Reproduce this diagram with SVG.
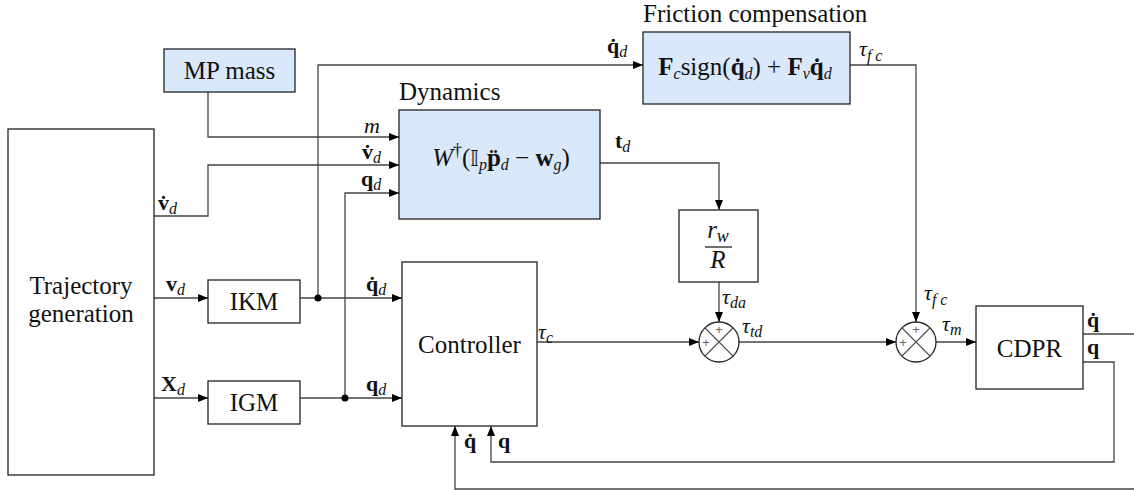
<svg xmlns="http://www.w3.org/2000/svg" width="1134" height="490" viewBox="0 0 1134 490" font-family="'Liberation Serif', serif">
<defs>
<marker id="ah" markerUnits="userSpaceOnUse" markerWidth="11" markerHeight="9" refX="10" refY="4" orient="auto">
<path d="M0,0 L10,4 L0,8 z" fill="#000"/>
</marker>
<style>
.box{fill:#fff;stroke:#222;stroke-width:1.3}
.blue{fill:#dae8fc;stroke:#222;stroke-width:1.3}
.ln{fill:none;stroke:#444;stroke-width:1.3}
.arr{fill:none;stroke:#444;stroke-width:1.3;marker-end:url(#ah)}
text{font-family:"Liberation Serif",serif;fill:#111}
.nm{font-size:25px}
.m{font-size:22px}
.fm{font-size:25px}
.fr{font-size:25px;font-style:italic}
.b{font-weight:bold}
.i{font-style:italic}
.sb{font-style:italic;font-size:16px}
.sp{font-size:18px}
.pl{font-family:"Liberation Sans",sans-serif;font-size:13px;fill:#666}
</style>
</defs>

<g id="connectors">
<path class="arr" d="M208,92 V137 H399"/>
<path class="arr" d="M154,216 H208 V165 H399"/>
<path class="arr" d="M318,298 V65 H643"/>
<path class="arr" d="M345,398 V193 H399"/>
<path class="arr" d="M154,298 H208"/>
<path class="arr" d="M300,298 H402"/>
<path class="arr" d="M154,398 H208"/>
<path class="arr" d="M300,398 H402"/>
<path class="arr" d="M600,163 H719 V210"/>
<path class="arr" d="M719,282 V322"/>
<path class="arr" d="M537,342 H699"/>
<path class="arr" d="M739,342 H896"/>
<path class="arr" d="M850,65 H916 V322"/>
<path class="arr" d="M936,342 H976"/>
<path class="ln" d="M1083,334 H1134"/>
<path class="arr" d="M1083,362 H1114 V462 H491 V426"/>
<path class="arr" d="M1134,489 H455 V426"/>
<circle cx="318" cy="298" r="3.5" fill="#000"/>
<circle cx="345" cy="398" r="3.5" fill="#000"/>
</g>

<g id="mp-mass">
<rect class="blue" x="164" y="49" width="131" height="43"/>
<text class="nm" x="229.5" y="79" text-anchor="middle" style="font-family:'Liberation Serif',serif">MP mass</text>
</g>

<g id="trajectory">
<rect class="box" x="8" y="129" width="146" height="346"/>
<text class="nm" x="81" y="294" text-anchor="middle" style="font-family:'Liberation Serif',serif">Trajectory</text>
<text class="nm" x="81" y="322" text-anchor="middle" style="font-family:'Liberation Serif',serif">generation</text>
</g>

<g id="ikm">
<rect class="box" x="208" y="280" width="92" height="43"/>
<text class="nm" x="254" y="310" text-anchor="middle" style="font-family:'Liberation Serif',serif">IKM</text>
</g>

<g id="igm">
<rect class="box" x="208" y="381" width="92" height="43"/>
<text class="nm" x="254" y="411" text-anchor="middle" style="font-family:'Liberation Serif',serif">IGM</text>
</g>

<g id="dynamics">
<text class="nm" x="399" y="100">Dynamics</text>
<rect class="blue" x="399" y="110" width="201" height="109"/>
<text class="fm" x="501" y="166" text-anchor="middle"><tspan class="i">W</tspan><tspan class="sp" dy="-10">†</tspan><tspan dy="10">(</tspan><tspan style="font-family:'DejaVu Sans',sans-serif;font-size:22px">𝕀</tspan><tspan class="sb" dy="4">p</tspan><tspan class="b" dy="-4">p̈</tspan><tspan class="sb" dy="4">d</tspan><tspan dy="-4"> − </tspan><tspan class="b">w</tspan><tspan class="sb" dy="4">g</tspan><tspan dy="-4">)</tspan></text>
</g>

<g id="friction">
<text class="nm" x="643" y="22">Friction compensation</text>
<rect class="blue" x="643" y="32" width="207" height="72"/>
<text class="fm" x="745" y="75" text-anchor="middle"><tspan class="b">F</tspan><tspan class="sb" dy="4">c</tspan><tspan dy="-4">sign(</tspan><tspan class="b">q̇</tspan><tspan class="sb" dy="4">d</tspan><tspan dy="-4">) + </tspan><tspan class="b">F</tspan><tspan class="sb" dy="4">v</tspan><tspan class="b" dy="-4">q̇</tspan><tspan class="sb" dy="4">d</tspan></text>
</g>

<g id="gain">
<rect class="box" x="679" y="210" width="79" height="72"/>
<text class="fr" x="718" y="238" text-anchor="middle">r<tspan class="sp" dy="4">w</tspan></text>
<line x1="705" y1="247" x2="732" y2="247" stroke="#111" stroke-width="1.2"/>
<text class="fr" x="718" y="268" text-anchor="middle">R</text>
</g>

<g id="controller">
<rect class="box" x="402" y="262" width="135" height="164"/>
<text class="nm" x="469.5" y="353" text-anchor="middle" style="font-family:'Liberation Serif',serif">Controller</text>
</g>

<g id="sum1">
<circle cx="719" cy="342" r="20" fill="#fff" stroke="#222" stroke-width="1.3"/>
<path class="ln" d="M704.9,327.9 L733.1,356.1 M733.1,327.9 L704.9,356.1"/>
<text class="pl" x="719" y="334" text-anchor="middle">+</text>
<text class="pl" x="706" y="347" text-anchor="middle">+</text>
</g>

<g id="sum2">
<circle cx="916" cy="342" r="20" fill="#fff" stroke="#222" stroke-width="1.3"/>
<path class="ln" d="M901.9,327.9 L930.1,356.1 M930.1,327.9 L901.9,356.1"/>
<text class="pl" x="916" y="334" text-anchor="middle">+</text>
<text class="pl" x="903" y="347" text-anchor="middle">+</text>
</g>

<g id="cdpr">
<rect class="box" x="976" y="306" width="107" height="83"/>
<text class="nm" x="1029.5" y="357" text-anchor="middle" style="font-family:'Liberation Serif',serif">CDPR</text>
</g>

<g id="labels">
<text class="m" x="607" y="53"><tspan class="b">q̇</tspan><tspan class="sb" dy="4">d</tspan></text>
<text class="m i" x="859" y="56">τ<tspan class="sb" dy="5">f c</tspan></text>
<text class="m" x="615" y="148"><tspan class="b">t</tspan><tspan class="sb" dy="4">d</tspan></text>
<text class="m i" x="364" y="133">m</text>
<text class="m" x="362" y="159"><tspan class="b">v̇</tspan><tspan class="sb" dy="4">d</tspan></text>
<text class="m" x="361" y="186"><tspan class="b">q</tspan><tspan class="sb" dy="4">d</tspan></text>
<text class="m" x="158" y="210"><tspan class="b">v̇</tspan><tspan class="sb" dy="4">d</tspan></text>
<text class="m" x="166" y="291"><tspan class="b">v</tspan><tspan class="sb" dy="4">d</tspan></text>
<text class="m" x="161" y="391"><tspan class="b">X</tspan><tspan class="sb" dy="4">d</tspan></text>
<text class="m" x="366" y="291"><tspan class="b">q̇</tspan><tspan class="sb" dy="4">d</tspan></text>
<text class="m" x="366" y="391"><tspan class="b">q</tspan><tspan class="sb" dy="4">d</tspan></text>
<text class="m i" x="538" y="339">τ<tspan class="sb" dy="4">c</tspan></text>
<text class="m i" x="722" y="304">τ<tspan class="sb" dy="4">da</tspan></text>
<text class="m i" x="742" y="333">τ<tspan class="sb" dy="4">td</tspan></text>
<text class="m i" x="924" y="300">τ<tspan class="sb" dy="5">f c</tspan></text>
<text class="m i" x="942" y="331">τ<tspan class="sb" dy="4">m</tspan></text>
<text class="m b" x="1087" y="327">q̇</text>
<text class="m b" x="1087" y="354">q</text>
<text class="m b" x="464" y="448">q̇</text>
<text class="m b" x="498" y="448">q</text>
</g>
</svg>
